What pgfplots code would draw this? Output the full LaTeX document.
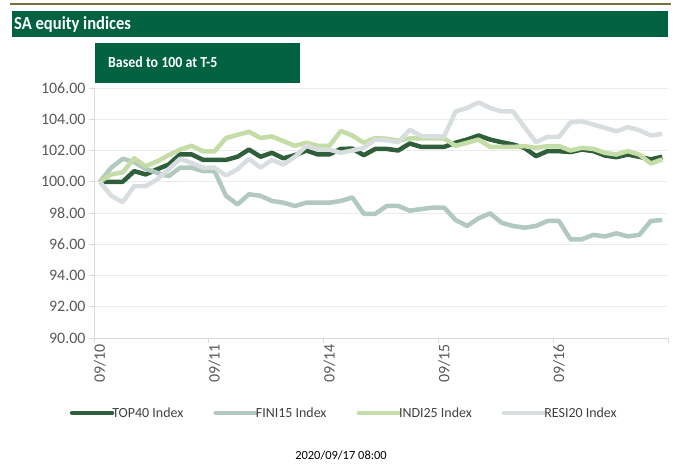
\documentclass[border=0pt]{standalone}
\usepackage{fontspec}
\setmainfont{Carlito}
\newfontfamily\titlefont{Carlito}[FakeStretch=0.9]
\usepackage{pgfplots}
\pgfplotsset{compat=1.18}
\definecolor{bannergreen}{HTML}{006241}
\definecolor{olivebar}{HTML}{76733A}
\definecolor{topc}{HTML}{2F5E3A}
\definecolor{finic}{HTML}{B2C9C0}
\definecolor{indic}{HTML}{C4DCA5}
\definecolor{resic}{HTML}{D8DEE0}
\definecolor{gridgray}{HTML}{EBEBEB}
\definecolor{axisgray}{HTML}{D9D9D9}
\definecolor{tickgray}{HTML}{595959}
\definecolor{legtext}{HTML}{404040}
\begin{document}
\begin{tikzpicture}[x=1bp,y=1bp]
\useasboundingbox (0,0) rectangle (681,-470);
\draw[olivebar, line width=2.5bp] (10,-4) -- (671,-4);
\fill[bannergreen] (12,-11) rectangle (668,-37);
\node[anchor=west, text=white, inner sep=0pt, font=\titlefont\bfseries\fontsize{18.5}{21}\selectfont] at (14,-24) {SA equity indices};
\fill[bannergreen] (95,-43) rectangle (300,-83);
\node[anchor=west, text=white, inner sep=0pt, font=\titlefont\bfseries\fontsize{15.5}{18}\selectfont] at (108,-62) {Based to 100 at T-5};
\begin{axis}[
  at={(94bp,-338bp)}, anchor=south west,
  width=574bp, height=250bp, scale only axis,
  xmin=0, xmax=50, ymin=90, ymax=106,
  axis x line*=bottom, axis y line*=left,
  axis line style={draw=axisgray, line width=0.8bp},
  ytick={90,92,...,106},
  yticklabel style={/pgf/number format/.cd, fixed, fixed zerofill, precision=2},
  /pgf/number format/assume math mode=true,
  ymajorgrids, grid style={draw=gridgray, line width=0.8bp},
  tick align=outside, major tick length=5bp,
  tick style={draw=axisgray, line width=0.8bp},
  xtick={0,10,20,30,40,50}, xticklabels={},
  extra x ticks={0.5,10.5,20.5,30.5,40.5},
  extra x tick labels={09/10,09/11,09/14,09/15,09/16},
  extra x tick style={major tick length=0pt, grid=none, xticklabel style={rotate=90, anchor=east, xshift=-3bp}},
  ticklabel style={font=\fontsize{16}{18}\selectfont, text=tickgray},
  no markers,
  every axis plot/.append style={line width=4.5bp, line join=round},
  legend columns=4,
  legend style={at={(0.436,-0.30)}, anchor=center, draw=none, fill=none,
    font=\fontsize{14}{16}\selectfont, text=legtext,
    /tikz/every even column/.append style={column sep=28bp}},
  legend image code/.code={\path (0bp,0bp) -- (36bp,0bp); \draw[#1, line cap=round, overlay] (0bp,0bp) -- (40bp,0bp);},
]
\addplot[topc] coordinates {
(0.5,100.0)(1.5,100.0)(2.5,100.0)(3.5,100.68)(4.5,100.47)(5.5,100.8)(6.5,101.1)(7.5,101.75)(8.5,101.75)(9.5,101.4)
(10.5,101.4)(11.5,101.4)(12.5,101.6)(13.5,102.06)(14.5,101.6)(15.5,101.85)(16.5,101.5)(17.5,101.7)(18.5,102.0)(19.5,101.75)
(20.5,101.75)(21.5,102.1)(22.5,102.12)(23.5,101.7)(24.5,102.1)(25.5,102.1)(26.5,102.0)(27.5,102.45)(28.5,102.23)(29.5,102.23)
(30.5,102.23)(31.5,102.5)(32.5,102.7)(33.5,102.96)(34.5,102.7)(35.5,102.53)(36.5,102.38)(37.5,102.17)(38.5,101.64)(39.5,101.96)
(40.5,101.96)(41.5,101.9)(42.5,102.06)(43.5,101.96)(44.5,101.68)(45.5,101.57)(46.5,101.74)(47.5,101.6)(48.5,101.43)(49.5,101.6)
};
\addlegendentry{TOP40 Index}
\addplot[finic] coordinates {
(0.5,100.0)(1.5,100.9)(2.5,101.47)(3.5,101.25)(4.5,100.83)(5.5,100.57)(6.5,100.36)(7.5,100.9)(8.5,100.9)(9.5,100.68)
(10.5,100.68)(11.5,99.1)(12.5,98.55)(13.5,99.2)(14.5,99.1)(15.5,98.77)(16.5,98.66)(17.5,98.45)(18.5,98.66)(19.5,98.66)
(20.5,98.66)(21.5,98.77)(22.5,99.0)(23.5,97.95)(24.5,97.95)(25.5,98.45)(26.5,98.45)(27.5,98.15)(28.5,98.25)(29.5,98.35)
(30.5,98.35)(31.5,97.55)(32.5,97.17)(33.5,97.66)(34.5,97.98)(35.5,97.38)(36.5,97.17)(37.5,97.06)(38.5,97.17)(39.5,97.49)
(40.5,97.49)(41.5,96.32)(42.5,96.32)(43.5,96.6)(44.5,96.5)(45.5,96.7)(46.5,96.5)(47.5,96.6)(48.5,97.49)(49.5,97.55)
};
\addlegendentry{FINI15 Index}
\addplot[indic] coordinates {
(0.5,100.0)(1.5,100.47)(2.5,100.6)(3.5,101.5)(4.5,101.0)(5.5,101.3)(6.5,101.7)(7.5,102.06)(8.5,102.3)(9.5,101.95)
(10.5,101.95)(11.5,102.8)(12.5,103.0)(13.5,103.2)(14.5,102.8)(15.5,102.9)(16.5,102.6)(17.5,102.3)(18.5,102.5)(19.5,102.3)
(20.5,102.3)(21.5,103.25)(22.5,102.96)(23.5,102.5)(24.5,102.8)(25.5,102.75)(26.5,102.64)(27.5,102.77)(28.5,102.77)(29.5,102.77)
(30.5,102.77)(31.5,102.3)(32.5,102.5)(33.5,102.7)(34.5,102.23)(35.5,102.23)(36.5,102.23)(37.5,102.28)(38.5,102.17)(39.5,102.28)
(40.5,102.28)(41.5,102.0)(42.5,102.17)(43.5,102.1)(44.5,101.85)(45.5,101.74)(46.5,101.96)(47.5,101.74)(48.5,101.17)(49.5,101.43)
};
\addlegendentry{INDI25 Index}
\addplot[resic] coordinates {
(0.5,100.0)(1.5,99.1)(2.5,98.7)(3.5,99.72)(4.5,99.72)(5.5,100.15)(6.5,100.8)(7.5,101.47)(8.5,101.2)(9.5,100.9)
(10.5,100.9)(11.5,100.4)(12.5,100.8)(13.5,101.47)(14.5,100.9)(15.5,101.4)(16.5,101.1)(17.5,101.6)(18.5,102.3)(19.5,102.06)
(20.5,102.06)(21.5,101.85)(22.5,102.0)(23.5,102.17)(24.5,102.7)(25.5,102.66)(26.5,102.53)(27.5,103.32)(28.5,102.93)(29.5,102.9)
(30.5,102.9)(31.5,104.5)(32.5,104.72)(33.5,105.08)(34.5,104.72)(35.5,104.5)(36.5,104.5)(37.5,103.5)(38.5,102.53)(39.5,102.87)
(40.5,102.87)(41.5,103.8)(42.5,103.87)(43.5,103.66)(44.5,103.45)(45.5,103.23)(46.5,103.5)(47.5,103.3)(48.5,102.96)(49.5,103.06)
};
\addlegendentry{RESI20 Index}
\end{axis}
\node[font=\fontsize{12.5}{14}\selectfont] at (341,-455) {2020/09/17 08:00};
\end{tikzpicture}
\end{document}
